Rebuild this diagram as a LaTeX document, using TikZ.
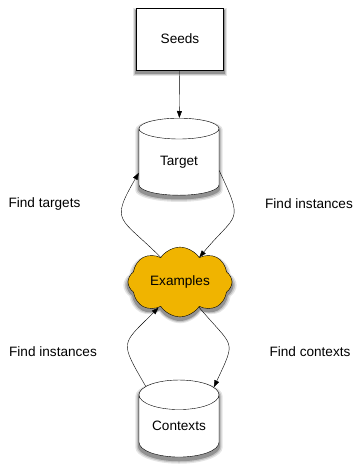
\documentclass[tikz,border=0pt]{standalone}
\usepackage{fontspec}
\setmainfont{Liberation Sans}
\usepackage{tikz}
\usetikzlibrary{shapes.geometric,shapes.symbols,arrows.meta,shadows}
\definecolor{gold}{RGB}{240,180,0}
\tikzset{
  lbl/.style={font=\fontsize{13.6}{16}\selectfont,inner sep=0pt},
  shd/.style={
    general shadow={shadow xshift=0pt,shadow yshift=-3pt,shadow scale=1.09,opacity=0.1,fill=black},
    general shadow={shadow xshift=0pt,shadow yshift=-3pt,shadow scale=1.06,opacity=0.15,fill=black},
    general shadow={shadow xshift=0pt,shadow yshift=-3pt,shadow scale=1.03,opacity=0.25,fill=black}},
  box/.style={draw,fill=white,shd,minimum width=87pt,minimum height=62pt,lbl},
  db/.style={draw,fill=white,shd,cylinder,shape border rotate=90,shape aspect=0.55,minimum width=80pt,minimum height=77pt,lbl},
  cld/.style={draw,fill=gold,shd,cloud,cloud puffs=8,cloud puff arc=115,aspect=1.5,minimum width=104pt,minimum height=69pt,lbl},
  arr/.style={-{Triangle[length=7pt,width=5pt]},thin}
}
\begin{document}
\begin{tikzpicture}
\useasboundingbox (0,0) rectangle (359pt,-467pt);
\node[box] (seeds) at (180pt,-39pt) {Seeds};
\node[db] (target) at (179pt,-162pt) {Target};
\node[cld] (ex) at (180pt,-282pt) {Examples};
\node[db] (ctx) at (179pt,-426pt) {Contexts};
% labels
\node[lbl] (ft) at (44.5pt,-204pt) {Find targets};
\node[lbl] (fi1) at (309pt,-204pt) {Find instances};
\node[lbl] (fi2) at (53pt,-352pt) {Find instances};
\node[lbl] (fc) at (310pt,-352pt) {Find contexts};
% links
\draw[arr] (seeds) -- (target);
\draw[arr] (ex.128) to[out=135,in=-120,looseness=1.7] (target.195);
\draw[arr] (target.-12) to[out=-65,in=50,looseness=1.7] (ex.52);
\draw[arr] (ctx.130) to[out=120,in=-135,looseness=1.7] (ex.230);
\draw[arr] (ex.-53) to[out=-50,in=65,looseness=1.7] (ctx.48);
\end{tikzpicture}
\end{document}
